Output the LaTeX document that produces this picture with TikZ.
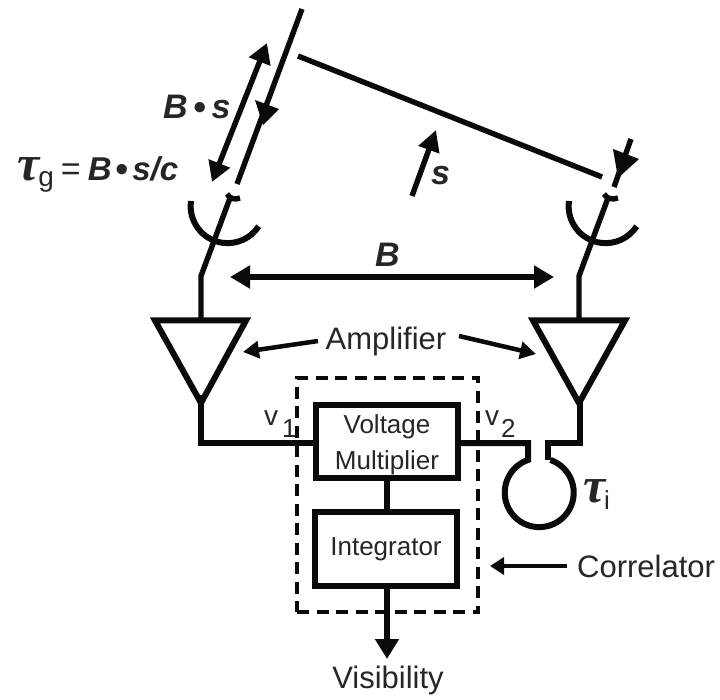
\documentclass[tikz,border=0pt]{standalone}
\usepackage{fontspec}
\setmainfont{Liberation Sans}
\newfontfamily\taufont{Liberation Serif}[BoldItalicFont={Liberation Serif Bold Italic}]
\usetikzlibrary{arrows.meta}
\definecolor{ink}{HTML}{0A0A0A}
\definecolor{txt}{HTML}{262626}
\newcommand{\sz}[1]{\fontsize{#1}{#1}\selectfont}
\newcommand{\btau}{{\taufont\bfseries\itshape\sz{50}τ}}
\tikzset{
  wire/.style={draw=ink,line width=6pt,line join=miter},
  thin wire/.style={draw=ink,line width=5.4pt},
  bigtip/.style={-{Triangle[length=20pt,width=23pt]}},
  bothtip/.style={{Triangle[length=20pt,width=22pt]}-{Triangle[length=20pt,width=22pt]}},
  smalltip/.style={-{Triangle[length=16pt,width=17pt]}},
  stip/.style={-{Triangle[length=21pt,width=21pt]}},
  proc/.style={draw=ink,line width=6pt,minimum width=142pt,minimum height=73pt,inner sep=0pt,align=center,font=\sz{26},text=txt},
  label/.style={inner sep=0pt,text=txt,font=\sz{31}},
  math/.style={inner sep=0pt,text=txt,font=\sz{34}\bfseries\itshape},
  signal/.style={inner sep=0pt,text=txt,font=\sz{26}},
}
\begin{document}
\begin{tikzpicture}[x=1pt,y=-1pt]
\useasboundingbox (0,0) rectangle (720,700);

% correlator frame, below the wires
\node (frame) [draw=ink,line width=4.6pt,dash pattern=on 12pt off 7.5pt,minimum width=181pt,minimum height=234pt,inner sep=0pt] at (387.5,495) {};

% wavefront and ray geometry
\coordinate (rayLtop) at (302,9);
\coordinate (rayLend) at (237,184);
\coordinate (waveA) at (298,56);
\coordinate (waveB) at (602,177);
\coordinate (rayRtop) at (631,139);
\coordinate (rayRend) at (614,187);
\coordinate (bsA) at (267,43);
\coordinate (bsB) at (212,182);
\coordinate (sA) at (412,196);
\coordinate (sB) at (436,130);

\draw[thin wire] (rayLtop) -- (rayLend);
\fill[ink] (263,125) -- (255,100) -- (279,109) -- cycle;
\draw[thin wire] (waveA) -- (waveB);
\draw[thin wire] (rayRtop) -- (rayRend);
\fill[ink] (618,178) -- (613,149) -- (639,159) -- cycle;
\draw[thin wire,bothtip] (bsA) -- (bsB);
\draw[thin wire,stip] (sA) -- (sB);

% left antenna
\coordinate (feedLa) at (230,198);
\coordinate (feedLb) at (201,276);
\coordinate (ampLtop) at (201,320);
\draw[thin wire] (feedLa) -- (feedLb) -- (ampLtop);
\draw[thin wire] (227,194) .. controls (230,199) and (235,200) .. (240,198);
\draw[wire] (191,201) arc[start angle=172,end angle=327,radius=37pt];
\draw[wire] (155,320.5) -- (246,320.5) -- (201,403) -- cycle;

% right antenna
\coordinate (feedRa) at (608,198);
\coordinate (feedRb) at (579,276);
\coordinate (ampRtop) at (579,320);
\draw[thin wire] (feedRa) -- (feedRb) -- (ampRtop);
\draw[thin wire] (604,194) .. controls (607,199) and (612,200) .. (618,198);
\draw[wire] (569,201) arc[start angle=172,end angle=327,radius=37pt];
\draw[wire] (533,320.5) -- (625,320.5) -- (579,403) -- cycle;

% boxes
\node (vm) [proc,fill=white] at (387,441.5) {\rule{0pt}{26pt}Voltage\\[10pt]Multiplier};
\node (int) [proc,fill=white,minimum height=74pt] at (386,549) {Integrator};

% signal path
\coordinate (apexL) at (201,398);
\coordinate (apexR) at (580,398);
\coordinate (cornerL) at (201,443);
\coordinate (cornerR) at (580,443);
\coordinate (loopA) at (528,443);
\coordinate (loopB) at (548,443);
\coordinate (loopAd) at (528,460);
\coordinate (loopBd) at (548,460);
\draw[wire,line cap=rect] (apexL) -- (cornerL) -- (vm.west |- cornerL);
\draw[wire] (vm.east |- cornerL) -- (loopA) -- (loopAd) arc[start angle=109,end angle=431,radius=34.5pt];
\draw[wire] (apexR) -- (cornerR) -- (loopB) -- (loopBd);
\draw[wire] (vm.south) -- (vm.south |- int.north);
\draw[wire,bigtip] (int.south -| vm.south) -- +(0,70);

% baseline and callout arrows
\coordinate (Bl) at (230,277);
\coordinate (Br) at (554,277);
\draw[thin wire,bothtip] (Bl) -- (Br);
\node (ampText) [label] at (386,341) {Amplifier};
\coordinate (ampTl) at (318,341);
\coordinate (ampTr) at (459,336);
\coordinate (ampHl) at (243,352);
\coordinate (ampHr) at (536,354);
\draw[wire,line width=4.5pt,smalltip] (ampTl) -- (ampHl);
\draw[wire,line width=4.5pt,smalltip] (ampTr) -- (ampHr);
\node (corText) [label,anchor=west] at (577,566) {Correlator};
\coordinate (corTail) at (567,566);
\coordinate (corHead) at (490,566);
\draw[wire,line width=4.5pt,-{Triangle[length=14pt,width=17pt]}] (corTail) -- (corHead);

% labels
\node (visText) [label,anchor=base] at (388,688) {Visibility};
\node (bs) [math,anchor=base west] at (163,119) {B\,\raisebox{-1pt}{\sz{36}•}\,s};
\node (tau) [inner sep=0pt,anchor=base west,text=txt] at (17,181) {\btau\hspace{-1pt}{\sz{28}\raisebox{-6pt}{g}}\hspace{7pt}{\sz{34}=}\hspace{7pt}{\sz{33}\bfseries\itshape B\hspace{4pt}\raisebox{-1pt}{\sz{36}•}\hspace{4pt}s/c}};
\node (sLabel) [math,anchor=base west] at (431,185) {s};
\node (BLabel) [math,anchor=base west] at (375,267) {B};
\node (v1) [signal,font=\sz{28},anchor=base west] at (264,425) {v};
\node (one) [signal,anchor=base west] at (282,437) {1};
\node (v2) [signal,font=\sz{28},anchor=base west] at (485,425) {v};
\node (two) [signal,anchor=base west] at (501,437) {2};
\node (taui) [inner sep=0pt,anchor=base west,text=txt] at (583,502) {\btau};
\node (ilabel) [signal,anchor=base west] at (604,509) {i};
\end{tikzpicture}
\end{document}
